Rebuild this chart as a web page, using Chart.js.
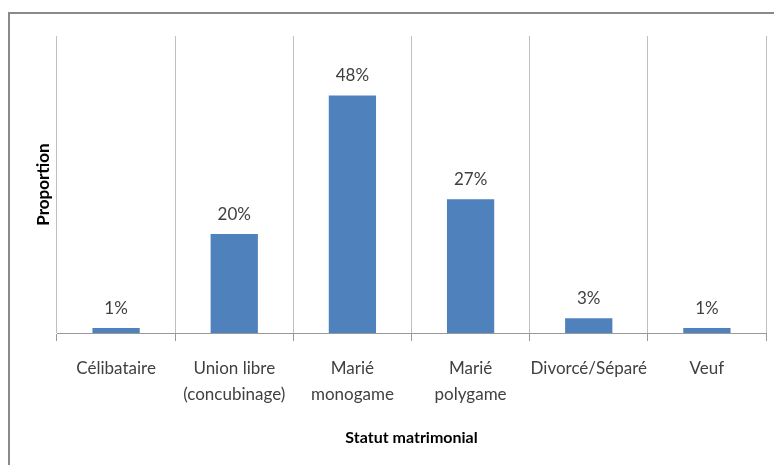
<!DOCTYPE html>
<html>
<head>
<meta charset="utf-8">
<script src="https://cdn.jsdelivr.net/npm/chart.js@4"></script>
<style>
  body { margin: 0; background: #fff; overflow: hidden; }
  #cadre { position: absolute; left: 8px; top: 12px; width: 900px; height: 600px; border: 2px solid #8a8a8a; }
  #graphe { position: absolute; left: 0; top: 0; }
</style>
</head>
<body>
<div id="cadre"></div>
<canvas id="graphe" width="774" height="465"></canvas>
<script>
// statut matrimonial et proportions (%)
var categories = [
  ['Célibataire'],
  ['Union libre', '(concubinage)'],
  ['Marié', 'monogame'],
  ['Marié', 'polygame'],
  ['Divorcé/Séparé'],
  ['Veuf']
];
var proportions = [1, 20, 48, 27, 3, 1];

var police = 'Lato, "Open Sans", sans-serif';

// étiquettes de valeur au-dessus des barres
var etiquettes = {
  id: 'etiquettes',
  afterDatasetsDraw: function(chart) {
    var ctx = chart.ctx;
    var meta = chart.getDatasetMeta(0);
    ctx.save();
    ctx.font = '17px ' + police;
    ctx.fillStyle = '#404040';
    ctx.textAlign = 'center';
    ctx.textBaseline = 'bottom';
    meta.data.forEach(function(barre, i) {
      ctx.fillText(proportions[i] + '%', barre.x, barre.y - 11);
    });
    ctx.restore();
  }
};

var ctx = document.getElementById('graphe').getContext('2d');
new Chart(ctx, {
  type: 'bar',
  data: {
    labels: categories,
    datasets: [{
      data: proportions,
      backgroundColor: '#4F81BD',
      barPercentage: 0.4,
      categoryPercentage: 1
    }]
  },
  options: {
    responsive: false,
    animation: false,
    devicePixelRatio: 1,
    layout: { padding: { top: 36, right: 8, left: 0, bottom: 0 } },
    plugins: { legend: { display: false }, tooltip: { enabled: false } },
    scales: {
      x: {
        afterFit: function(scale) { scale.height = 132; },
        grid: { offset: true, color: '#BFBFBF', tickLength: 8, tickColor: '#999' },
        border: { display: true, color: '#999' },
        ticks: {
          color: '#404040',
          padding: 14,
          maxRotation: 0,
          minRotation: 0,
          autoSkip: false,
          font: { family: police, size: 17, lineHeight: 1.55 }
        },
        title: {
          display: true,
          text: 'Statut matrimonial',
          color: '#000',
          font: { family: police, size: 16, weight: 'bold', lineHeight: 1.2 },
          padding: { top: 0, bottom: 18 }
        }
      },
      y: {
        min: 0,
        max: 60,
        afterFit: function(scale) { scale.width = 57; },
        grid: { display: false },
        border: { display: false },
        ticks: { display: false },
        title: {
          display: true,
          text: 'Proportion',
          color: '#000',
          font: { family: police, size: 17, weight: 'bold', lineHeight: 1.2 },
          padding: { top: 33, bottom: 0 }
        }
      }
    }
  },
  plugins: [etiquettes]
});
</script>
</body>
</html>
